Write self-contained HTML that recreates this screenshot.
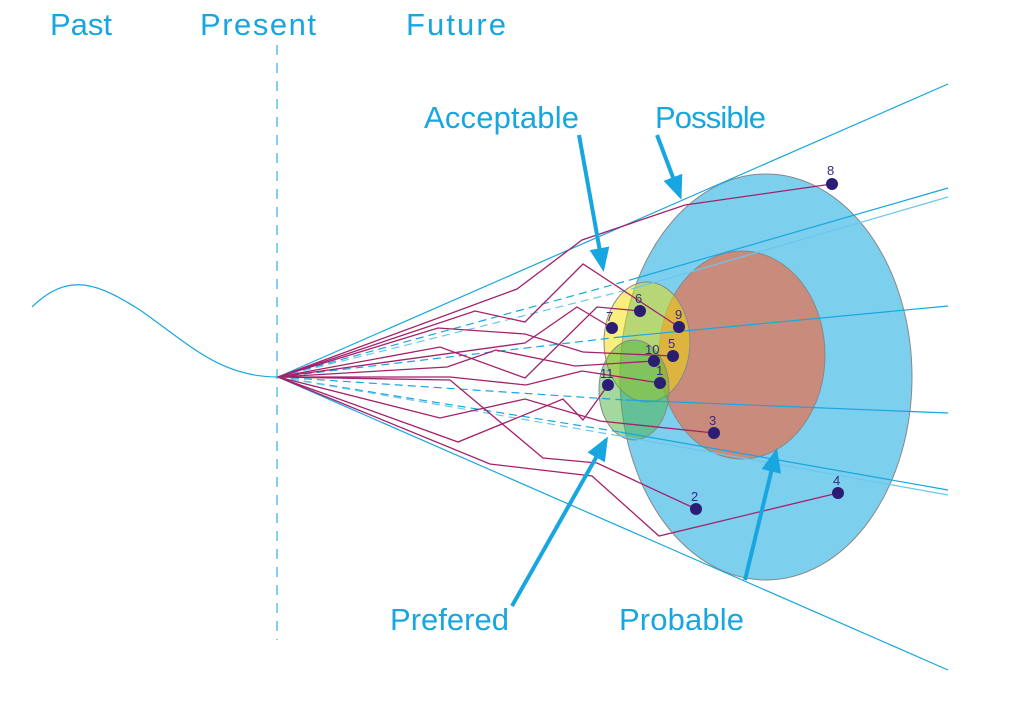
<!DOCTYPE html>
<html><head><meta charset="utf-8"><style>body{margin:0;background:#fff}svg{display:block}text{font-family:"Liberation Sans",sans-serif}</style></head>
<body>
<svg width="1023" height="724" viewBox="0 0 1023 724" xmlns="http://www.w3.org/2000/svg">
<defs><marker id="ah" markerWidth="6" markerHeight="6" refX="5" refY="3" orient="auto" markerUnits="strokeWidth"><path d="M0,0.5 L6,3 L0,5.5 z" fill="#18a6e0"/></marker></defs>
<g fill="#18a6e0" font-size="31">
<text x="50" y="35">Past</text><text x="200" y="35" textLength="116">Present</text><text x="406" y="35" textLength="100">Future</text>
<text x="424" y="128" textLength="155">Acceptable</text><text x="655" y="128" textLength="111">Possible</text>
<text x="390" y="630" textLength="119">Prefered</text><text x="619" y="630" textLength="125">Probable</text>
</g>
<line x1="277" y1="45" x2="277" y2="640" stroke="#58c0ea" stroke-width="1.5" stroke-dasharray="10,8"/>
<path d="M32,307 C70,270 100,285 140,310 C190,345 220,377 278,377" fill="none" stroke="#18a6e0" stroke-width="1.2"/>
<ellipse cx="766" cy="377" rx="146" ry="203" fill="#7dcfee" stroke="#888" stroke-width="1"/>
<ellipse cx="742" cy="355" rx="83" ry="104" fill="#c98b7c" stroke="#888" stroke-width="1"/>
<ellipse cx="647" cy="342" rx="43" ry="60" fill="#f2e000" fill-opacity="0.5" stroke="#888"/>
<ellipse cx="634" cy="390" rx="35" ry="50" fill="#4cb240" fill-opacity="0.5" stroke="#888"/>
<g stroke="#18a6e0" stroke-width="1.2" fill="none">
<line x1="278" y1="377" x2="948" y2="84"/><line x1="278" y1="377" x2="948" y2="670"/>
<path d="M278,377 L630,280" stroke-dasharray="8,5"/><path d="M630,280 L948,188"/>
<path d="M278,377 L635,288" stroke-dasharray="8,5" stroke="#6cc6ee"/><path d="M635,288 L948,197" stroke="#6cc6ee"/>
<path d="M278,377 L620,337" stroke-dasharray="8,5"/><path d="M620,337 L948,306"/>
<path d="M278,377 L625,400" stroke-dasharray="8,5"/><path d="M625,400 L948,413"/>
<path d="M278,377 L620,432" stroke-dasharray="8,5"/><path d="M620,432 L948,490"/>
<path d="M278,377 L620,436" stroke-dasharray="8,5" stroke="#6cc6ee"/><path d="M620,436 L948,495" stroke="#6cc6ee"/>
</g>
<g stroke="#a3216b" stroke-width="1.3" fill="none">
<path d="M278,377 L517,289 L582,240 L685,205 L832,184"/>
<path d="M278,377 L475,311 L525,322 L583,264 L679,327"/>
<path d="M278,377 L525,343 L577,307 L612,328"/>
<path d="M278,377 L440,347 L525,378 L597,307 L640,311"/>
<path d="M278,377 L438,328 L525,334 L583,352 L673,356"/>
<path d="M278,377 L447,367 L496,350 L575,366 L654,361"/>
<path d="M278,377 L450,377 L526,385 L582,371 L660,383"/>
<path d="M278,377 L440,418 L525,399 L600,421 L714,433"/>
<path d="M278,377 L458,442 L563,399 L583,420 L608,385"/>
<path d="M278,377 L450,380 L543,458 L597,463 L696,509"/>
<path d="M278,377 L490,464 L592,476 L659,536 L838,493"/>
</g>
<g stroke="#18a6e0" stroke-width="4" fill="none" marker-end="url(#ah)">
<line x1="579" y1="135" x2="603" y2="268"/>
<line x1="657" y1="135" x2="680" y2="196"/>
<line x1="512" y1="606" x2="606" y2="440"/>
<line x1="745" y1="580" x2="776" y2="452"/>
</g>
<g fill="#2b1c74">
<circle cx="832" cy="184" r="6"/><circle cx="640" cy="311" r="6"/><circle cx="612" cy="328" r="6"/><circle cx="679" cy="327" r="6"/><circle cx="673" cy="356" r="6"/><circle cx="654" cy="361" r="6"/><circle cx="660" cy="383" r="6"/><circle cx="608" cy="385" r="6"/><circle cx="714" cy="433" r="6"/><circle cx="696" cy="509" r="6"/><circle cx="838" cy="493" r="6"/>
</g>
<g fill="#3a2a80" font-size="13">
<text x="827" y="175">8</text><text x="635" y="303">6</text><text x="606" y="321">7</text><text x="675" y="319">9</text><text x="668" y="348">5</text><text x="645" y="354">10</text><text x="656" y="375">1</text><text x="600" y="378">11</text><text x="709" y="425">3</text><text x="691" y="501">2</text><text x="833" y="485">4</text>
</g>
</svg>
</body></html>
